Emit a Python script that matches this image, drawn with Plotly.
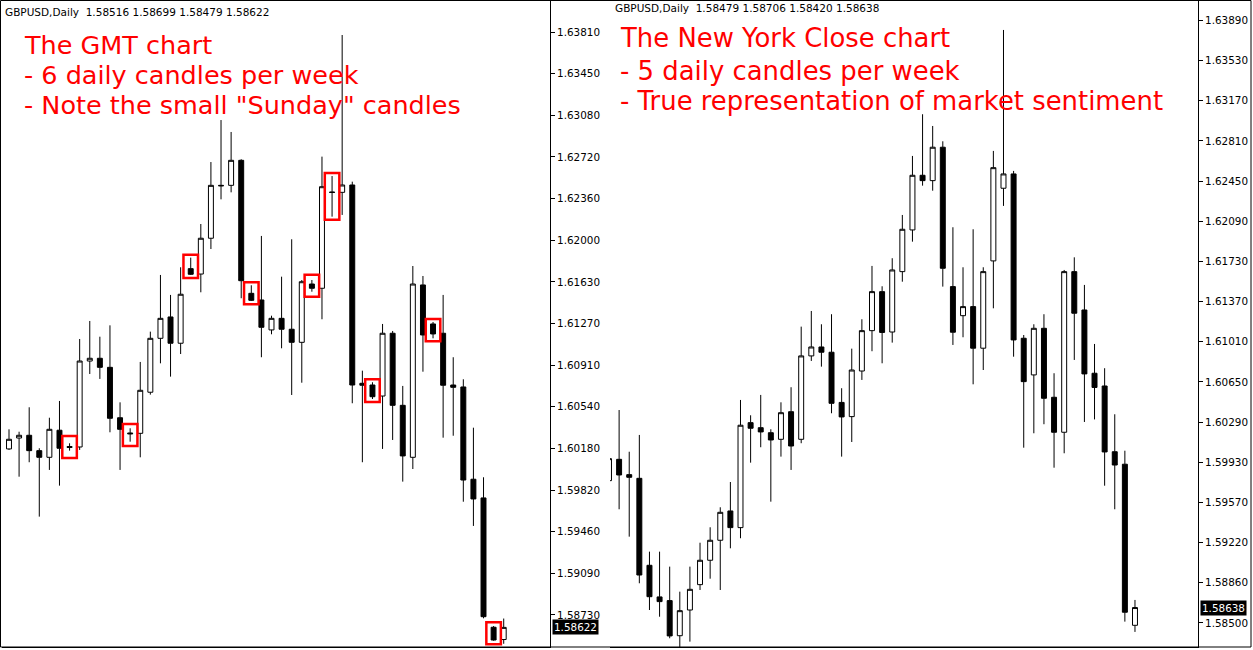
import plotly.graph_objects as go

# ---------------- Left chart: GMT, 6 candles per week ----------------
gmt_open = [1.60177, 1.60272, 1.60296, 1.60162, 1.60104, 1.60340, 1.60198, 1.60194, 1.60943, 1.60967,
            1.60888, 1.60449, 1.60316, 1.60313, 1.60671, 1.61141, 1.61327, 1.61098, 1.61748, 1.61701,
            1.62013, 1.62474, 1.62474, 1.62692, 1.61533, 1.61475, 1.61214, 1.61315, 1.61220, 1.61106,
            1.61614, 1.61577, 1.62416, 1.62413, 1.62477, 1.60749, 1.60734, 1.60638, 1.61185, 1.60557,
            1.60104, 1.61606, 1.61266, 1.61185, 1.60734, 1.60717, 1.59913, 1.59750, 1.58623, 1.58516]
gmt_high = [1.60348, 1.60327, 1.60540, 1.60183, 1.60449, 1.60595, 1.60226, 1.61135, 1.61292, 1.61155,
            1.61254, 1.60583, 1.60357, 1.60935, 1.61199, 1.61693, 1.61519, 1.61760, 1.61844, 1.62137,
            1.62677, 1.63043, 1.62939, 1.62701, 1.61603, 1.62033, 1.61338, 1.61678, 1.62004, 1.61649,
            1.61649, 1.62724, 1.62555, 1.63784, 1.62506, 1.60859, 1.60758, 1.61266, 1.61205, 1.60726,
            1.61771, 1.61684, 1.61283, 1.61519, 1.60976, 1.60784, 1.60362, 1.59930, 1.58634, 1.58699]
gmt_low = [1.60168, 1.59935, 1.60061, 1.59587, 1.59994, 1.59857, 1.60162, 1.60168, 1.60830, 1.60787,
           1.60322, 1.59994, 1.60240, 1.60104, 1.60650, 1.60923, 1.60807, 1.61004, 1.61693, 1.61542,
           1.61919, 1.62352, 1.62413, 1.61490, 1.61466, 1.60976, 1.61176, 1.61054, 1.60647, 1.60754,
           1.61547, 1.61307, 1.62201, 1.62216, 1.60575, 1.60061, 1.60612, 1.60177, 1.60255, 1.59892,
           1.60002, 1.60850, 1.61141, 1.60275, 1.60292, 1.59717, 1.59506, 1.58701, 1.58506, 1.58479]
gmt_close = [1.60261, 1.60296, 1.60162, 1.60104, 1.60348, 1.60183, 1.60190, 1.60943, 1.60967, 1.60888,
             1.60444, 1.60348, 1.60309, 1.60688, 1.61141, 1.61315, 1.61098, 1.61525, 1.61699, 1.62013,
             1.62474, 1.62470, 1.62692, 1.61643, 1.61472, 1.61237, 1.61315, 1.61220, 1.61106, 1.61634,
             1.61577, 1.62462, 1.62412, 1.62477, 1.60734, 1.60732, 1.60632, 1.61185, 1.60557, 1.60116,
             1.61614, 1.61170, 1.61179, 1.60732, 1.60714, 1.59906, 1.59741, 1.58715, 1.58512, 1.58622]
gmt_sunday_idx = [6, 12, 18, 24, 30, 32, 36, 42, 48]
gmt_tick_labels = ["1.58730", "1.59090", "1.59460", "1.59820", "1.60180", "1.60540", "1.60910",
                   "1.61270", "1.61630", "1.62000", "1.62360", "1.62720", "1.63080", "1.63450", "1.63810"]
gmt_text = ["The GMT chart", "- 6 daily candles per week", "- Note the small \"Sunday\" candles"]

# ---------------- Right chart: New York close, 5 candles per week ----------------
ny_open = [1.59773, 1.59964, 1.59827, 1.59794, 1.59016, 1.58733, 1.58700, 1.58386, 1.58616, 1.58843,
           1.59061, 1.59240, 1.59502, 1.59353, 1.60292, 1.60247, 1.60202, 1.60143, 1.60390, 1.60143,
           1.60889, 1.60969, 1.60922, 1.60473, 1.60346, 1.60754, 1.61115, 1.61464, 1.61103, 1.61643,
           1.62016, 1.62505, 1.62457, 1.62756, 1.61509, 1.61249, 1.61330, 1.60958, 1.61739, 1.62389,
           1.62517, 1.61047, 1.60719, 1.61136, 1.60519, 1.60206, 1.61643, 1.61300, 1.60734, 1.60620,
           1.60032, 1.59920, 1.58479]
ny_high = [1.60003, 1.60405, 1.60032, 1.60182, 1.59138, 1.59138, 1.59004, 1.58780, 1.59004, 1.59218,
           1.59356, 1.59535, 1.59761, 1.60495, 1.60358, 1.60540, 1.60233, 1.60474, 1.60609, 1.61151,
           1.61291, 1.61172, 1.61262, 1.60600, 1.60954, 1.61217, 1.61694, 1.61512, 1.61763, 1.62150,
           1.62678, 1.63051, 1.62946, 1.62809, 1.62040, 1.61682, 1.62022, 1.61682, 1.62723, 1.63805,
           1.62544, 1.61076, 1.61172, 1.61262, 1.60734, 1.61658, 1.61771, 1.61524, 1.60996, 1.60779,
           1.60367, 1.60041, 1.58706]
ny_low = [1.59735, 1.59517, 1.59272, 1.58855, 1.58616, 1.58556, 1.58363, 1.58270, 1.58333, 1.58795,
          1.58896, 1.58795, 1.59168, 1.59258, 1.59934, 1.60072, 1.59585, 1.59988, 1.59869, 1.60108,
          1.60844, 1.60793, 1.60376, 1.59988, 1.60119, 1.60674, 1.60931, 1.60823, 1.61008, 1.61553,
          1.61911, 1.62412, 1.62367, 1.61509, 1.60987, 1.61056, 1.60635, 1.60763, 1.61315, 1.62231,
          1.60882, 1.60068, 1.60197, 1.60278, 1.59889, 1.60018, 1.60853, 1.60298, 1.60321, 1.59728,
          1.59517, 1.58512, 1.58420]
ny_close = [1.59970, 1.59824, 1.59803, 1.58929, 1.58735, 1.58691, 1.58384, 1.58610, 1.58801, 1.59061,
            1.59240, 1.59490, 1.59353, 1.60269, 1.60242, 1.60209, 1.60137, 1.60381, 1.60083, 1.60889,
            1.60969, 1.60922, 1.60465, 1.60343, 1.60763, 1.61115, 1.61464, 1.61099, 1.61658, 1.62022,
            1.62505, 1.62457, 1.62756, 1.61673, 1.61101, 1.61330, 1.60958, 1.61643, 1.62573, 1.62517,
            1.61032, 1.60659, 1.61136, 1.60510, 1.60206, 1.61643, 1.61271, 1.60728, 1.60607, 1.60030,
            1.59913, 1.58596, 1.58638]
ny_tick_labels = ["1.58500", "1.58860", "1.59220", "1.59570", "1.59930", "1.60290", "1.60650", "1.61010",
                  "1.61370", "1.61730", "1.62090", "1.62450", "1.62810", "1.63170", "1.63530", "1.63890"]
ny_text = ["The New York Close chart", "- 5 daily candles per week",
           "- True representation of market sentiment"]

symbol = "GBPUSD,Daily"

# ---------------- geometry ----------------
W, H = 1253, 650
PLOT_BOTTOM_PX = 647
L_YRANGE = [1.58451, 1.64089]
R_YRANGE = [1.58285, 1.64073]
FONT = "DejaVu Sans"


def linspace(a, b, n):
    return [a + (b - a) * k / (n - 1) for k in range(n)]


def candle(o, h, l, c, xa, ya):
    return go.Candlestick(
        x=list(range(len(o))), open=o, high=h, low=l, close=c,
        xaxis=xa, yaxis=ya,
        increasing=dict(line=dict(color="black", width=1), fillcolor="white"),
        decreasing=dict(line=dict(color="black", width=1), fillcolor="black"),
        whiskerwidth=0, showlegend=False, hoverinfo="skip")


fig = go.Figure()
fig.add_trace(candle(gmt_open, gmt_high, gmt_low, gmt_close, "x", "y"))
fig.add_trace(candle(ny_open, ny_high, ny_low, ny_close, "x2", "y2"))

common_x = dict(showticklabels=False, showgrid=False, zeroline=False, ticks="",
                showline=True, linecolor="black", linewidth=1,
                rangeslider=dict(visible=False), fixedrange=True)
common_y = dict(side="right", showgrid=False, zeroline=False, ticks="outside", ticklen=4,
                tickcolor="black", tickwidth=1, showline=True, linecolor="black", linewidth=1,
                tickfont=dict(family=FONT, size=10.4, color="black"), fixedrange=True)

ydom = [(H - PLOT_BOTTOM_PX) / H, 1]
fig.update_layout(
    width=W, height=H, margin=dict(l=0, r=0, t=0, b=0),
    paper_bgcolor="white", plot_bgcolor="white", boxgap=0.3, boxgroupgap=0.3,
    xaxis=dict(domain=[2 / W, 550 / W], range=[-0.693, 53.585], anchor="y", **common_x),
    yaxis=dict(domain=ydom, range=L_YRANGE, anchor="x",
               tickvals=linspace(float(gmt_tick_labels[0]), float(gmt_tick_labels[-1]), len(gmt_tick_labels)),
               ticktext=gmt_tick_labels, **common_y),
    xaxis2=dict(domain=[610 / W, 1198 / W], range=[0.099, 58.23], anchor="y2", **common_x),
    yaxis2=dict(domain=ydom, range=R_YRANGE, anchor="x2",
                tickvals=linspace(float(ny_tick_labels[0]), float(ny_tick_labels[-1]), len(ny_tick_labels)),
                ticktext=ny_tick_labels, **common_y),
)

shapes = []
# red boxes around the "Sunday" candles
pp = (L_YRANGE[1] - L_YRANGE[0]) / PLOT_BOTTOM_PX
for i in gmt_sunday_idx:
    hi, lo = gmt_high[i], gmt_low[i]
    mid = (hi + lo) / 2
    half = max((hi - lo) / 2 + 3 * pp, 11 * pp)
    shapes.append(dict(type="rect", xref="x", yref="y", x0=i - 0.72, x1=i + 0.72,
                       y0=mid - half, y1=mid + half, line=dict(color="#FF0000", width=2.5),
                       fillcolor="rgba(0,0,0,0)"))
# outer frame
shapes.append(dict(type="rect", xref="paper", yref="paper", x0=0.5 / W, x1=1251 / W,
                   y0=(H - PLOT_BOTTOM_PX) / H, y1=1 - 0.5 / H, line=dict(color="black", width=1)))
fig.update_layout(shapes=shapes)

ann = []


def header(o, h, l, c):
    return symbol + "\u00a0\u00a0" + " ".join(f"{v:.5f}" for v in (o, h, l, c))


ann.append(dict(text=header(gmt_open[-1], gmt_high[-1], gmt_low[-1], gmt_close[-1]),
                xref="paper", yref="paper", x=3 / W, y=1 - 12 / H, xanchor="left", yanchor="middle",
                showarrow=False, font=dict(family=FONT, size=10.5, color="black")))
ann.append(dict(text=header(ny_open[-1], ny_high[-1], ny_low[-1], ny_close[-1]),
                xref="paper", yref="paper", x=613 / W, y=1 - 8 / H, xanchor="left", yanchor="middle",
                showarrow=False, font=dict(family=FONT, size=10.5, color="black")))

for txt, ypx in zip(gmt_text, [44.5, 75.3, 105.5]):
    ann.append(dict(text=txt, xref="paper", yref="paper", x=22 / W, y=1 - ypx / H,
                    xanchor="left", yanchor="middle", showarrow=False,
                    font=dict(family=FONT, size=25.5, color="#FF0000")))
for txt, ypx in zip(ny_text, [38, 70.5, 101.3]):
    ann.append(dict(text=txt, xref="paper", yref="paper", x=618 / W, y=1 - ypx / H,
                    xanchor="left", yanchor="middle", showarrow=False,
                    font=dict(family=FONT, size=25.9, color="#FF0000")))

# current price labels
ann.append(dict(text=f"{gmt_close[-1]:.5f}", xref="paper", yref="y", x=552 / W, y=gmt_close[-1],
                xanchor="left", yanchor="middle", showarrow=False, bgcolor="black", borderpad=1,
                font=dict(family=FONT, size=10.4, color="white")))
ann.append(dict(text=f"{ny_close[-1]:.5f}", xref="paper", yref="y2", x=1200 / W, y=ny_close[-1],
                xanchor="left", yanchor="middle", showarrow=False, bgcolor="black", borderpad=1,
                font=dict(family=FONT, size=10.4, color="white")))
fig.update_layout(annotations=ann)

fig.write_html("out.html", config={"displayModeBar": False},
               post_script="document.body.style.margin='0';document.body.style.overflow='hidden';")
